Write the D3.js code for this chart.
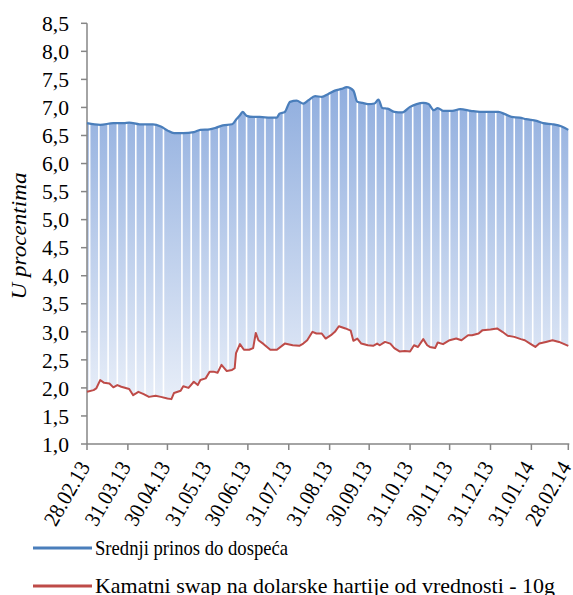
<!DOCTYPE html>
<html><head><meta charset="utf-8">
<script src="https://cdn.jsdelivr.net/npm/d3@7"></script>
</head>
<body style="margin:0">
<svg id="chart" width="573" height="595"></svg>
<script>
// ---- data ----
const blueDates = ["2013-02-28","2013-03-10","2013-03-20","2013-03-28","2013-04-01","2013-04-09","2013-04-19","2013-04-25","2013-04-30","2013-05-05","2013-05-12","2013-05-20","2013-05-25","2013-06-01","2013-06-06","2013-06-11","2013-06-18","2013-06-21","2013-06-24","2013-06-26","2013-06-29","2013-07-04","2013-07-09","2013-07-17","2013-07-22","2013-07-24","2013-07-28","2013-08-01","2013-08-06","2013-08-11","2013-08-15","2013-08-20","2013-08-25","2013-08-30","2013-09-04","2013-09-09","2013-09-13","2013-09-18","2013-09-21","2013-09-25","2013-09-29","2013-10-04","2013-10-07","2013-10-10","2013-10-14","2013-10-19","2013-10-25","2013-10-31","2013-11-05","2013-11-10","2013-11-14","2013-11-18","2013-11-21","2013-11-25","2013-12-02","2013-12-08","2013-12-16","2013-12-23","2013-12-31","2014-01-06","2014-01-11","2014-01-16","2014-01-22","2014-01-27","2014-02-04","2014-02-09","2014-02-16","2014-02-23","2014-02-28"];
const blueValues = [6.72,6.69,6.72,6.72,6.73,6.70,6.70,6.66,6.59,6.54,6.54,6.56,6.60,6.61,6.64,6.68,6.70,6.78,6.86,6.92,6.85,6.83,6.83,6.82,6.82,6.89,6.92,7.10,7.12,7.07,7.13,7.20,7.19,7.24,7.30,7.33,7.36,7.30,7.10,7.08,7.06,7.07,7.14,6.99,6.98,6.92,6.91,7.01,7.06,7.08,7.06,6.95,6.99,6.94,6.94,6.97,6.94,6.92,6.92,6.92,6.88,6.83,6.82,6.79,6.76,6.72,6.70,6.66,6.60];

const redDates = ["2013-02-28","2013-03-05","2013-03-07","2013-03-10","2013-03-13","2013-03-17","2013-03-20","2013-03-23","2013-03-26","2013-04-01","2013-04-04","2013-04-08","2013-04-12","2013-04-16","2013-04-21","2013-04-25","2013-04-30","2013-05-03","2013-05-05","2013-05-10","2013-05-12","2013-05-16","2013-05-20","2013-05-23","2013-05-25","2013-05-29","2013-06-01","2013-06-04","2013-06-07","2013-06-10","2013-06-14","2013-06-18","2013-06-20","2013-06-21","2013-06-24","2013-06-27","2013-07-01","2013-07-04","2013-07-06","2013-07-08","2013-07-12","2013-07-17","2013-07-22","2013-07-28","2013-08-03","2013-08-08","2013-08-11","2013-08-14","2013-08-18","2013-08-21","2013-08-25","2013-08-28","2013-09-01","2013-09-04","2013-09-07","2013-09-12","2013-09-16","2013-09-18","2013-09-21","2013-09-24","2013-09-29","2013-10-03","2013-10-06","2013-10-08","2013-10-12","2013-10-16","2013-10-19","2013-10-23","2013-10-27","2013-10-31","2013-11-03","2013-11-06","2013-11-10","2013-11-13","2013-11-15","2013-11-19","2013-11-21","2013-11-25","2013-11-30","2013-12-05","2013-12-09","2013-12-14","2013-12-17","2013-12-22","2013-12-25","2013-12-31","2014-01-05","2014-01-09","2014-01-13","2014-01-18","2014-01-23","2014-01-26","2014-01-30","2014-02-03","2014-02-06","2014-02-11","2014-02-16","2014-02-21","2014-02-28"];
const redValues = [1.93,1.96,1.99,2.14,2.09,2.08,2.01,2.05,2.02,1.98,1.87,1.93,1.89,1.84,1.86,1.84,1.81,1.80,1.91,1.95,2.03,2.00,2.11,2.05,2.14,2.17,2.29,2.29,2.27,2.41,2.30,2.32,2.35,2.62,2.78,2.68,2.68,2.71,2.98,2.85,2.78,2.68,2.68,2.79,2.76,2.75,2.79,2.85,3.00,2.97,2.97,2.88,2.94,3.00,3.10,3.06,3.02,2.84,2.88,2.79,2.76,2.75,2.79,2.76,2.82,2.79,2.71,2.65,2.66,2.65,2.76,2.73,2.87,2.76,2.73,2.71,2.81,2.78,2.85,2.88,2.85,2.94,2.94,2.97,3.03,3.04,3.06,3.00,2.93,2.91,2.87,2.85,2.79,2.73,2.79,2.82,2.85,2.82,2.75];

const tickDates = ["2013-02-28","2013-03-31","2013-04-30","2013-05-31","2013-06-30","2013-07-31","2013-08-31","2013-09-30","2013-10-31","2013-11-30","2013-12-31","2014-01-31","2014-02-28"];
const yTicks = [1.0,1.5,2.0,2.5,3.0,3.5,4.0,4.5,5.0,5.5,6.0,6.5,7.0,7.5,8.0,8.5];
const missingGaps = ["2013-05-04","2013-08-03"];
const seriesNames = ["Srednji prinos do dospeća","Kamatni swap na dolarske hartije od vrednosti - 10g"];
const yTitle = "U procentima";

// ---- drawing ----
const FONT = "Liberation Serif";
const ff = sel => sel.style("font-family", `"${FONT}"`).style("font-size","22px");
const parse = d3.utcParse("%Y-%m-%d");
const fmtTick = d3.utcFormat("%d.%m.%y");
const blue = blueDates.map((d,i)=>({date:parse(d), v:blueValues[i]}));
const red = redDates.map((d,i)=>({date:parse(d), v:redValues[i]}));

const svg = d3.select("#chart");
const L = 87, R = 568.3, T = 23.3, B = 444;
const x = d3.scaleUtc().domain([parse(tickDates[0]), parse(tickDates[tickDates.length-1])]).range([L, R]);
const y = d3.scaleLinear().domain([1, 8.5]).range([B, T]);

const gy = svg.append("g");
ff(gy.selectAll("text").data(yTicks).join("text")
  .attr("x",69).attr("y",d=>y(d)).attr("dy","0.35em").attr("text-anchor","end")
  .attr("textLength",27).attr("lengthAdjust","spacingAndGlyphs")
  .text(d=>d.toFixed(1).replace(".",",")));

const td = tickDates.map(parse);
const gx = svg.append("g");
ff(gx.selectAll("text").data(td).join("text")
  .attr("transform",d=>`translate(${x(d)-3},${B+19}) rotate(-60)`)
  .attr("text-anchor","end").attr("dy","0.35em")
  .attr("textLength",70).attr("lengthAdjust","spacingAndGlyphs")
  .text(d=>fmtTick(d)));

ff(svg.append("text").attr("transform","translate(26,236) rotate(-90)").attr("text-anchor","middle")
  .attr("textLength",127).attr("lengthAdjust","spacingAndGlyphs")
  .style("font-style","italic").text(yTitle));

const colors = ["#4a7ebb","#be4b48"];
const legLen = [193, 460];
const lg = svg.append("g");
ff(lg.selectAll("text").data(seriesNames).join("text")
  .attr("x",95).attr("y",(d,i)=>547 + i*38).attr("dy","0.35em")
  .attr("textLength",(d,i)=>legLen[i]).attr("lengthAdjust","spacingAndGlyphs")
  .text(d=>d));
lg.selectAll("line").data(seriesNames).join("line")
  .attr("x1",33).attr("x2",92).attr("y1",(d,i)=>548 + i*38).attr("y2",(d,i)=>548 + i*38)
  .attr("stroke",(d,i)=>colors[i]).attr("stroke-width",3);

const defs = svg.append("defs");
const grad = defs.append("linearGradient").attr("id","g").attr("gradientUnits","userSpaceOnUse")
  .attr("x1",0).attr("x2",0).attr("y1",y(7.4)).attr("y2",y(1.0));
grad.append("stop").attr("offset","0%").attr("stop-color","#8fadde");
grad.append("stop").attr("offset","100%").attr("stop-color","#f4f7fc");

const bis = d3.bisector(p=>p.date).left;
const interp = (arr, t) => {
  let i = bis(arr, t);
  if (i<=0) return arr[0].v;
  if (i>=arr.length) return arr[arr.length-1].v;
  const a = arr[i-1], b = arr[i];
  const f = (t - a.date)/(b.date - a.date);
  return a.v + f*(b.v-a.v);
};

const plot = svg.insert("g", ":first-child");
const topPts = blue.map(p=>[x(p.date), y(p.v)]);
const botPts = red.map(p=>[x(p.date), y(p.v)]).reverse();
plot.append("path")
  .attr("d", "M" + topPts.concat(botPts).map(p=>p.join(",")).join("L") + "Z")
  .attr("fill","url(#g)");

const fmtISO = d3.utcFormat("%Y-%m-%d");
const sats = d3.utcSaturday.range(parse("2013-03-01"), parse("2014-02-28"))
  .filter(d => !missingGaps.includes(fmtISO(d)));
plot.append("g").selectAll("line").data(sats).join("line")
  .attr("x1", d=>x(d)).attr("x2", d=>x(d))
  .attr("y1", d=>y(interp(blue, d)))
  .attr("y2", d=>y(interp(red, d)))
  .attr("stroke","#fff").attr("stroke-width",1.6);

const axisColor = "#868686";
plot.append("line").attr("x1",L).attr("x2",L).attr("y1",T).attr("y2",B).attr("stroke",axisColor).attr("stroke-width",1.5);
plot.selectAll("line.yt").data(yTicks).join("line").attr("class","yt")
  .attr("x1",L-6).attr("x2",L).attr("y1",d=>y(d)).attr("y2",d=>y(d)).attr("stroke",axisColor).attr("stroke-width",1.5);
plot.append("line").attr("x1",L).attr("x2",R+1).attr("y1",B).attr("y2",B).attr("stroke",axisColor).attr("stroke-width",1.5);
plot.selectAll("line.xt").data(td).join("line").attr("class","xt")
  .attr("x1",d=>x(d)).attr("x2",d=>x(d)).attr("y1",B).attr("y2",B+6).attr("stroke",axisColor).attr("stroke-width",1.5);

const line = d3.line().x(d=>x(d.date)).y(d=>y(d.v));
plot.append("path").datum(red).attr("d",line).attr("fill","none").attr("stroke","#be4b48").attr("stroke-width",2).attr("stroke-linejoin","round");
plot.append("path").datum(blue).attr("d",line.curve(d3.curveMonotoneX)).attr("fill","none").attr("stroke","#4a7ebb").attr("stroke-width",2.25);
</script>
</body></html>
